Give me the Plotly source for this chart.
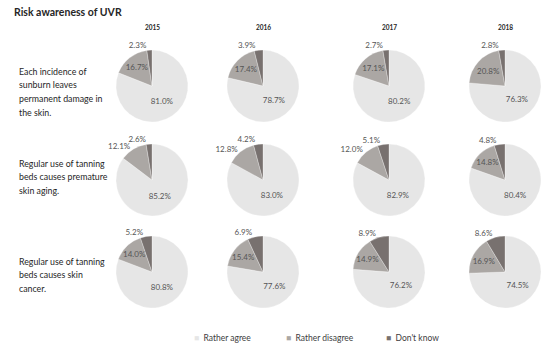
import plotly.graph_objects as go

# ---- data ----
categories = ["Rather agree", "Rather disagree", "Don't know"]
years = ["2015", "2016", "2017", "2018"]
statements = [
    ["Each incidence of", "sunburn leaves", "permanent damage in", "the skin."],
    ["Regular use of tanning", "beds causes premature", "skin aging."],
    ["Regular use of tanning", "beds causes skin", "cancer."],
]
row1_values = [[81.0, 16.7, 2.3], [78.7, 17.4, 3.9], [80.2, 17.1, 2.7], [76.3, 20.8, 2.8]]
row2_values = [[85.2, 12.1, 2.6], [83.0, 12.8, 4.2], [82.9, 12.0, 5.1], [80.4, 14.8, 4.8]]
row3_values = [[80.8, 14.0, 5.2], [77.6, 15.4, 6.9], [76.2, 14.9, 8.9], [74.5, 16.9, 8.6]]
rows = [row1_values, row2_values, row3_values]

# ---- style ----
colors = ["#e6e6e6", "#aba7a4", "#78716f"]
I, O = "inside", "outside"
# placement of the "Rather disagree" label in each pie
disagree_pos = [
    [I, I, I, I],
    [O, O, O, I],
    [I, I, I, I],
]
W, H = 550, 354
col_cx = [152, 263, 389, 505]
row_cy = [86, 180, 272]
R = 36
FONT = "Lato"
LABEL_FONT = dict(family=FONT, size=8, color="#555555")

fig = go.Figure()
for r, row in enumerate(rows):
    for c, vals in enumerate(row):
        cx, cy = col_cx[c], row_cy[r]
        dom = dict(x=[(cx - R) / W, (cx + R) / W],
                   y=[(H - cy - R) / H, (H - cy + R) / H])
        txt = [f"{v:.1f}%" for v in vals]
        # main pie: slices + agree / disagree labels
        fig.add_trace(go.Pie(
            labels=categories, values=vals, sort=False, direction="clockwise", rotation=0,
            text=[txt[0], txt[1], ""], textinfo="text",
            textposition=[I, disagree_pos[r][c], I],
            insidetextorientation="horizontal",
            textfont=LABEL_FONT,
            marker=dict(colors=colors, line=dict(color="#ffffff", width=0.3)),
            domain=dom, showlegend=False, hoverinfo="label+text",
        ))
        # overlay pie (transparent) carrying the "Don't know" label
        fig.add_trace(go.Pie(
            labels=categories, values=vals, sort=False, direction="clockwise", rotation=0,
            text=["", "", txt[2]], textinfo="text",
            textposition=[I, I, O],
            textfont=LABEL_FONT,
            marker=dict(colors=["rgba(0,0,0,0)"] * 3, line=dict(width=0)),
            domain=dom, showlegend=False, hoverinfo="skip",
        ))

annotations = [dict(text="<b>Risk awareness of UVR</b>", x=12 / W, y=1 - 12 / H,
                    xref="paper", yref="paper", xanchor="left", yanchor="middle",
                    showarrow=False, font=dict(family=FONT, size=10.5, color="#262626"))]
for c, yr in enumerate(years):
    annotations.append(dict(text=f"<b>{yr}</b>", x=col_cx[c] / W, y=1 - 27 / H,
                            xref="paper", yref="paper", xanchor="center", yanchor="middle",
                            showarrow=False, font=dict(family=FONT, size=6.5, color="#262626")))
label_top = [71, 163, 261]
for r, lines in enumerate(statements):
    for k, line in enumerate(lines):
        annotations.append(dict(text=line, x=17 / W, y=1 - (label_top[r] + 13.7 * k) / H,
                                xref="paper", yref="paper", xanchor="left", yanchor="middle",
                                align="left", showarrow=False,
                                font=dict(family=FONT, size=8.8, color="#262626")))
legend_x = [192, 284, 384]
for k, cat in enumerate(categories):
    annotations.append(dict(
        text=f"<span style='color:{colors[k]}'>■</span>  {cat}",
        x=legend_x[k] / W, y=1 - 338 / H, xref="paper", yref="paper",
        xanchor="left", yanchor="middle", showarrow=False,
        font=dict(family=FONT, size=8.5, color="#404040")))

fig.update_layout(
    width=W, height=H,
    margin=dict(l=0, r=0, t=0, b=0),
    paper_bgcolor="white",
    annotations=annotations,
    uniformtext=dict(minsize=8, mode="show"),
    showlegend=False,
)
fig.write_html("out.html", config={"displayModeBar": False})

# remove the default page margin so the 550x354 figure fits the window exactly
with open("out.html", encoding="utf-8") as f:
    html = f.read()
html = html.replace("<head>", "<head><style>html,body{margin:0;padding:0;overflow:hidden;}</style>", 1)
with open("out.html", "w", encoding="utf-8") as f:
    f.write(html)
